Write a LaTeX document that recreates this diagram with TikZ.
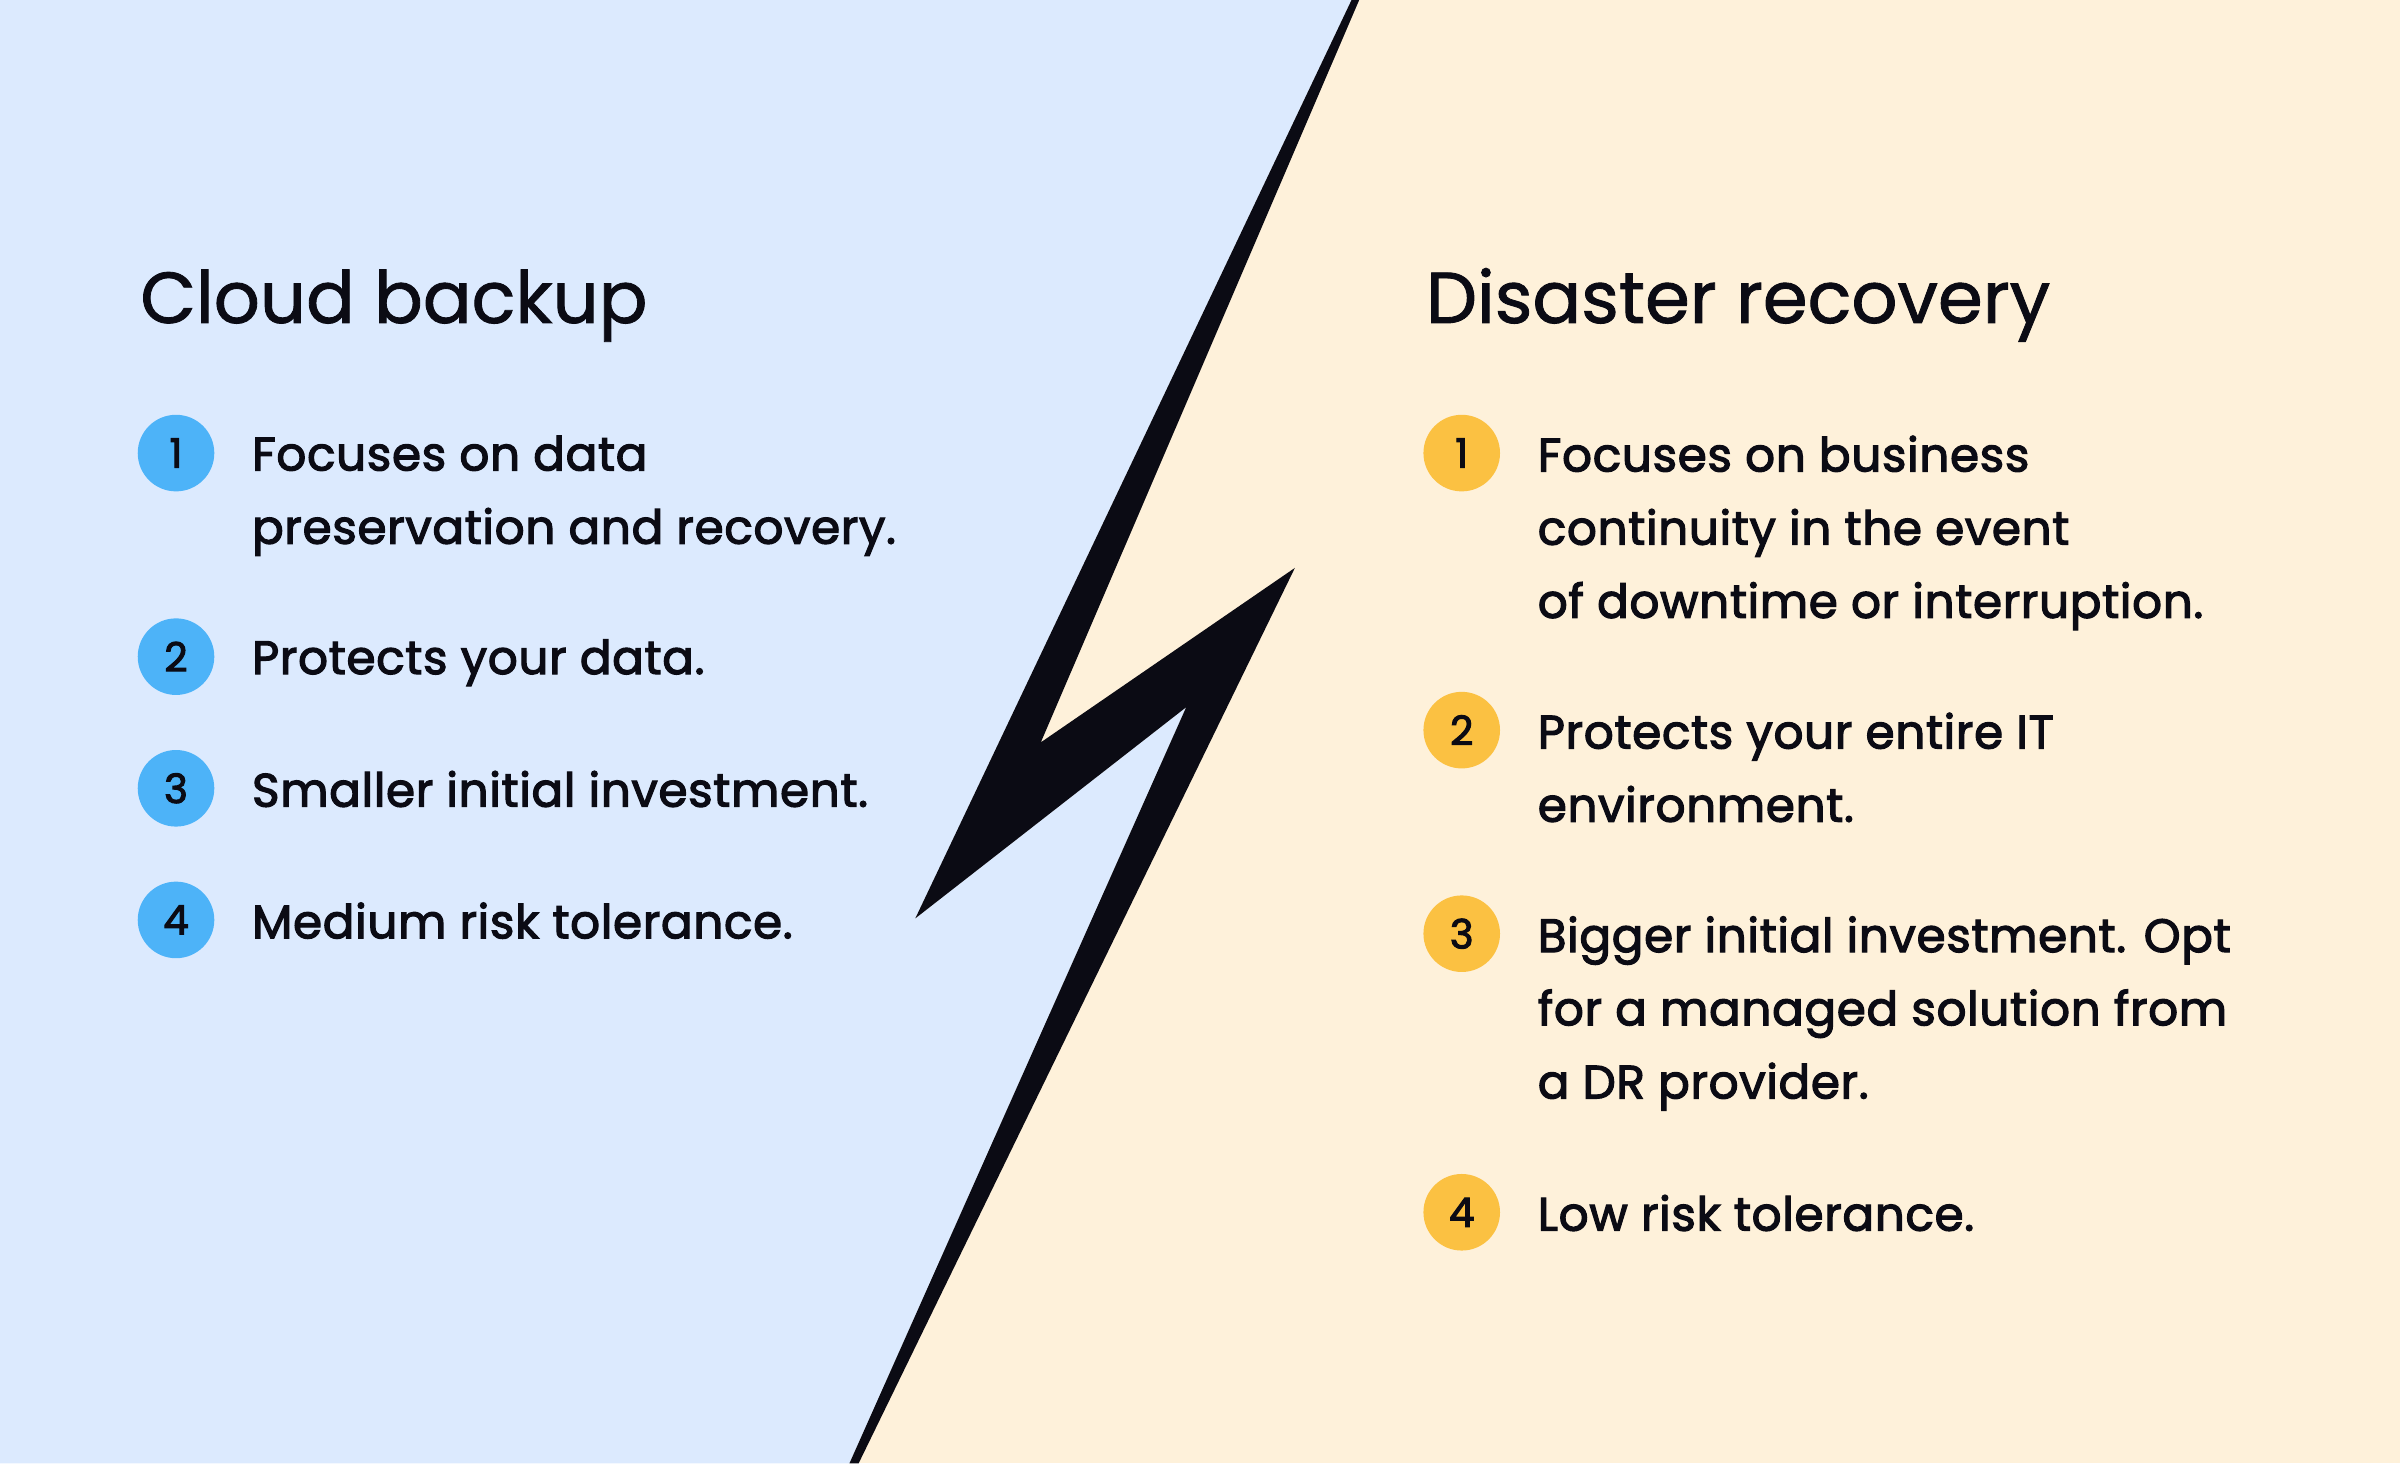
\documentclass[tikz,border=0pt]{standalone}
\usepackage{fontspec}
\setmainfont{Poppins}
\newfontfamily\medfont{Poppins}[FakeBold=2.6,LetterSpace=1.5]
\newfontfamily\titlefont{Poppins}[FakeBold=1.2]
\usetikzlibrary{positioning}
\definecolor{cbblue}{HTML}{DCEAFE}
\definecolor{drcream}{HTML}{FEF1DA}
\definecolor{numblue}{HTML}{4DB3F8}
\definecolor{numyellow}{HTML}{FBC142}
\definecolor{ink}{HTML}{0B0B14}
\tikzset{
  num/.style={circle, minimum size=0.5cm, inner sep=0pt, font=\medfont\fontsize{7.5}{9}\selectfont, text=ink},
  item/.style={anchor=north west, align=left, inner sep=0pt, text=ink,
    font=\medfont\fontsize{8.7}{13.6}\selectfont},
  title/.style={anchor=base west, inner sep=0pt, text=ink, font=\titlefont\fontsize{13.4}{16}\selectfont}
}
\begin{document}
\begin{tikzpicture}[x=0.01cm,y=-0.01cm]
  \useasboundingbox (0,0) rectangle (1568,956);
  % halves
  \fill[drcream] (0,0) rectangle (1568,956);
  \fill[cbblue] (0,0) -- (883,0) -- (598,600) -- (775,462) -- (555,956) -- (0,956) -- cycle;
  % bolt
  \fill[ink] (883,0) -- (888,0) -- (680,485) -- (846,371) -- (561,956) -- (555,956)
    -- (775,462) -- (598,600) -- cycle;
  % titles
  \node[title] (cbt) at (91,211) {Cloud backup};
  \node[title] (drt) at (931,211) {Disaster recovery};
  % cloud backup items
  \foreach \i/\y/\txt in {1/296/{Focuses on data\\preservation and recovery.},
      2/429/{Protects your data.}, 3/515/{Smaller initial investment.},
      4/601/{Medium risk tolerance.}} {
    \node[num, fill=numblue] (b\i) at (115,\y) {\i};
    \node[item] (bt\i) at (164,\y-12) {\txt};
  }
  % disaster recovery items
  \foreach \i/\y/\txt in {1/296/{Focuses on business\\continuity in the event\\of downtime or interruption.},
      2/477/{Protects your entire IT\\environment.},
      3/610/{Bigger initial investment. Opt\\for a managed solution from\\a DR provider.},
      4/792/{Low risk tolerance.}} {
    \node[num, fill=numyellow] (d\i) at (955,\y) {\i};
    \node[item] (dt\i) at (1004,\y-12) {\txt};
  }
\end{tikzpicture}
\end{document}
